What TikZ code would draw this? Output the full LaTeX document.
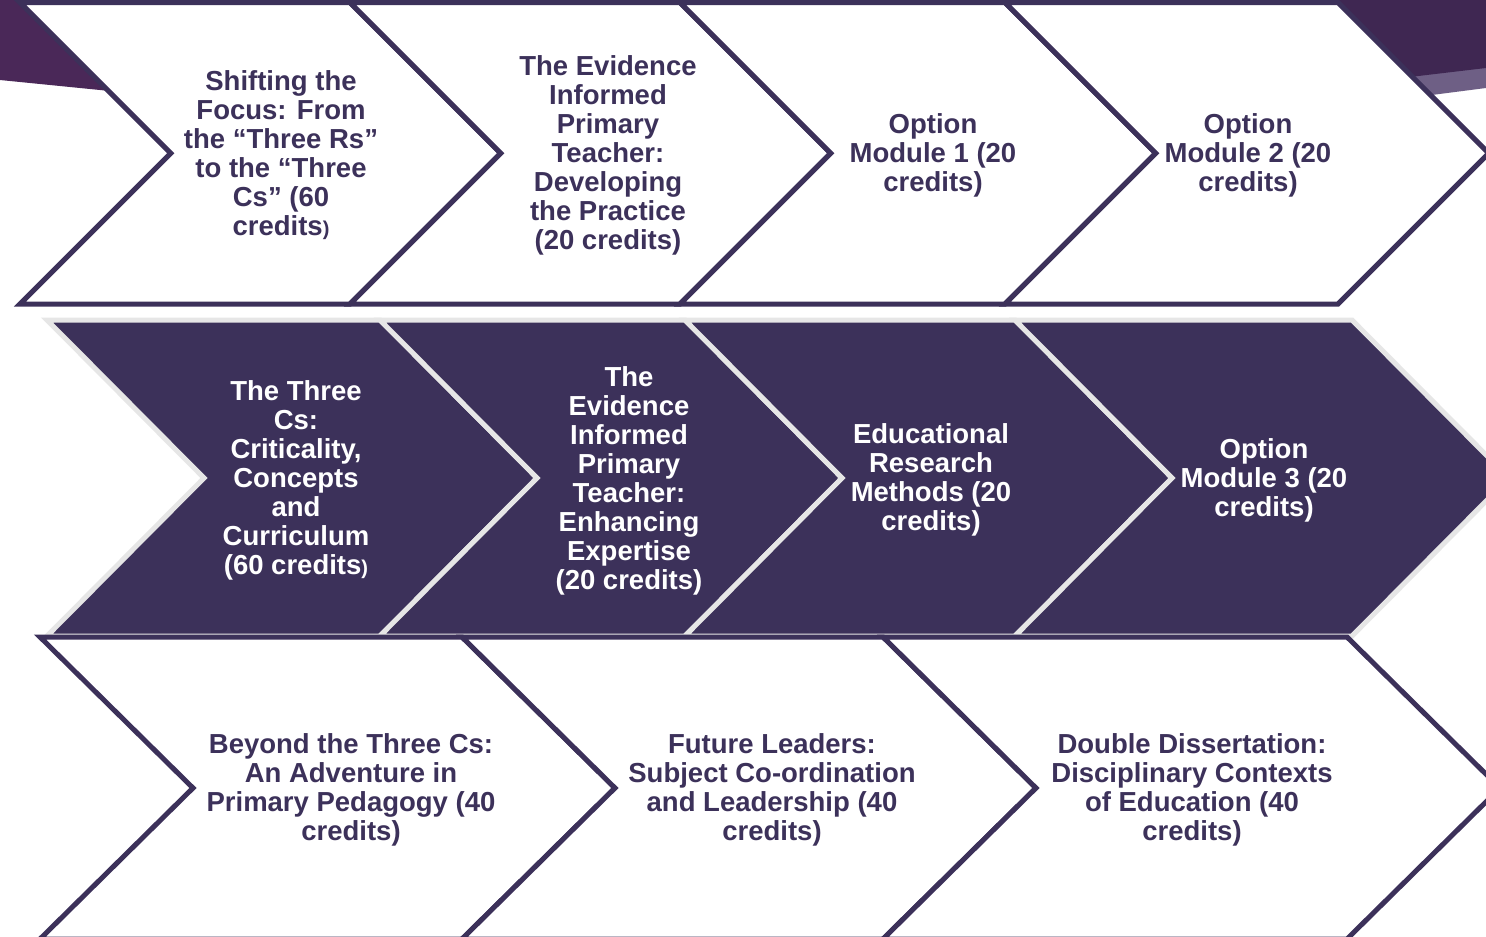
\documentclass[tikz,border=0pt]{standalone}
\usepackage{fontspec}
\setmainfont{Liberation Sans}
\definecolor{navy}{HTML}{3C315A}
\definecolor{edgegray}{HTML}{E6E6E6}
\definecolor{plum}{HTML}{4A2858}
\definecolor{plumdark}{HTML}{3F2752}
\definecolor{plumlight}{HTML}{6E5F85}
\newcommand\chevron[6]{%
  \draw[#6] (#1,#2) -- ({#1+#4},#2) -- ({#1+#4+#5},{(#2+#3)/2}) -- ({#1+#4},#3)
    -- (#1,#3) -- ({#1+#5},{(#2+#3)/2}) -- cycle;}
\newcommand\smallparen{{\fontsize{20}{20}\selectfont)}}
\tikzset{
  lightchev/.style={fill=white, draw=navy, line width=5pt, line join=miter},
  darkchev/.style={fill=navy, draw=edgegray, line width=5pt, line join=miter},
  lbl/.style={font=\fontsize{27.5}{29}\selectfont\bfseries, align=center, inner sep=0pt, text=navy},
  lbldark/.style={lbl, text=white}
}
\begin{document}
\begin{tikzpicture}[x=1pt,y=-1pt]
\useasboundingbox (0,0) rectangle (1486,937);
\fill[white] (0,0) rectangle (1486,937);
% background purple accents
\fill[plum] (0,0) -- (220,0) -- (220,102) -- (0,80) -- cycle;
\fill[plumlight] (1486,66) -- (1486,88) -- (1300,112) -- (1300,90) -- cycle;
\fill[plumdark] (1250,0) -- (1486,0) -- (1486,68) -- (1300,90) -- (1250,90) -- cycle;
% row 1
\chevron{20}{2.5}{304}{330}{150.75}{lightchev}
\chevron{350}{2.5}{304}{330}{150.75}{lightchev}
\chevron{680}{2.5}{304}{325}{150.75}{lightchev}
\chevron{1005}{2.5}{304}{333}{150.75}{lightchev}
% row 2
\chevron{47}{320}{636}{333}{157}{darkchev}
\chevron{380}{320}{636}{305}{157}{darkchev}
\chevron{685}{320}{636}{330}{157}{darkchev}
\chevron{1015}{320}{636}{337}{157}{darkchev}
% row 3
\chevron{40}{637}{939}{422}{153}{lightchev}
\chevron{462}{637}{939}{421}{153}{lightchev}
\chevron{883}{637}{939}{464}{153}{lightchev}
% labels row 1
\node[lbl] (a1) at (281,155) {Shifting the\\Focus: From\\the “Three Rs”\\to the “Three\\Cs” (60\\credits\smallparen};
\node[lbl] (a2) at (608,155) {The Evidence\\Informed\\Primary\\Teacher:\\Developing\\the Practice\\(20 credits)};
\node[lbl] (a3) at (933,155) {Option\\Module 1 (20\\credits)};
\node[lbl] (a4) at (1248,155) {Option\\Module 2 (20\\credits)};
% labels row 2
\node[lbldark] (b1) at (296,480) {The Three\\Cs:\\Criticality,\\Concepts\\and\\Curriculum\\(60 credits\smallparen};
\node[lbldark] (b2) at (629,481) {The\\Evidence\\Informed\\Primary\\Teacher:\\Enhancing\\Expertise\\(20 credits)};
\node[lbldark] (b3) at (931,480) {Educational\\Research\\Methods (20\\credits)};
\node[lbldark] (b4) at (1264,480) {Option\\Module 3 (20\\credits)};
% labels row 3
\node[lbl] (c1) at (351,790) {Beyond the Three Cs:\\An Adventure in\\Primary Pedagogy (40\\credits)};
\node[lbl] (c2) at (772,790) {Future Leaders:\\Subject Co-ordination\\and Leadership (40\\credits)};
\node[lbl] (c3) at (1192,790) {Double Dissertation:\\Disciplinary Contexts\\of Education (40\\credits)};
\end{tikzpicture}
\end{document}
